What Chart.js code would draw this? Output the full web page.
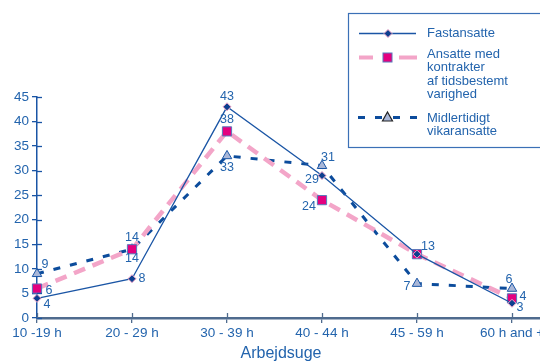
<!DOCTYPE html>
<html>
<head>
<meta charset="utf-8">
<script src="https://cdn.jsdelivr.net/npm/chart.js@4/dist/chart.umd.min.js"></script>
<style>
  html, body { margin: 0; padding: 0; background: #fff; overflow: hidden; }
  #wrap { width: 540px; height: 363px; overflow: hidden; position: relative; }
  canvas { display: block; }
</style>
</head>
<body>
<div id="wrap"><canvas id="c" width="600" height="363"></canvas></div>
<script>
// Working-week bands and shares (%) per type of employment
const categories = ['10 -19 h', '20 - 29 h', '30 - 39 h', '40 - 44 h', '45 - 59 h', '60 h and +'];
const fastansatte = [4, 8, 43, 29, 13, 3];
const tidsbestemt = [6, 14, 38, 24, 13, 4];
const vikaransatte = [9, 14, 33, 31, 7, 6];
const seriesNames = ['Fastansatte', 'Ansatte med kontrakter af tidsbestemt varighed', 'Midlertidigt vikaransatte'];
const axisTitle = 'Arbejdsuge';

// Styling
const FONT = '"Liberation Sans", Arial, sans-serif';
const TEXT = '#2364ad';
const BLUE = '#1a55a5';
const PINK = '#f3a5c8';
const MAGENTA = '#e4007f';
const NAVY = '#0c4c9c';
const TRI_FILL = '#a9b7d8';
const X_AXIS = '#4f6b8e';
const BAND_WIDTH = 95; // px between category ticks

// Value label offsets (dx, dy) from each point, per series
const labelOffsets = [
  [[10, 7], [10, 0], [0, -10], [-10, 4], [11, -7], [8, 5]],
  [[12, 2], [0, -11], [0, -11], [-13, 7], [11, -7], [11, -1]],
  [[8, -9], [0, 10], [0, 12], [6, -8], [-10, 3], [-3, -9]]
];

const toPoints = arr => arr.map((v, i) => ({ x: i, y: v }));

const valueLabels = {
  id: 'valueLabels',
  afterDatasetsDraw(chart) {
    const ctx = chart.ctx;
    const drawn = new Set();
    ctx.save();
    ctx.font = '12.5px ' + FONT;
    ctx.fillStyle = TEXT;
    ctx.textAlign = 'center';
    ctx.textBaseline = 'middle';
    chart.data.datasets.forEach((ds, di) => {
      const meta = chart.getDatasetMeta(di);
      meta.data.forEach((pt, i) => {
        const [dx, dy] = labelOffsets[di][i];
        const x = Math.round(pt.x + dx), y = Math.round(pt.y + dy);
        const key = x + ',' + y + ',' + ds.data[i].y;
        if (drawn.has(key)) return;
        drawn.add(key);
        ctx.fillText(String(ds.data[i].y), x, y);
      });
    });
    ctx.restore();
  }
};

// Keep a fixed spacing between category ticks whatever width the plot gets
const fixedBands = {
  id: 'fixedBands',
  afterLayout(chart) {
    const xs = chart.scales.x;
    const wanted = (xs.right - xs.left) / BAND_WIDTH;
    if (Math.abs(xs.options.max - wanted) > 1e-3) {
      xs.options.max = wanted;
      chart.options.scales.x.max = wanted;
      chart.update('none');
    }
  }
};

// Tick marks that cross the axis lines, title and the boxed legend
const decorations = {
  id: 'decorations',
  afterDraw(chart) {
    const ctx = chart.ctx;
    const xs = chart.scales.x, ys = chart.scales.y;
    const area = chart.chartArea;
    ctx.save();
    ctx.lineWidth = 1.3;
    ctx.strokeStyle = BLUE;
    ys.ticks.forEach(t => {
      const y = Math.round(ys.getPixelForValue(t.value)) + 0.5;
      ctx.beginPath(); ctx.moveTo(area.left, y); ctx.lineTo(area.left + 5, y); ctx.stroke();
    });
    ctx.strokeStyle = X_AXIS;
    xs.ticks.forEach(t => {
      const x = Math.round(xs.getPixelForValue(t.value)) + 0.5;
      ctx.beginPath(); ctx.moveTo(x, area.bottom - 5); ctx.lineTo(x, area.bottom); ctx.stroke();
    });

    // axis title
    ctx.font = '16px ' + FONT;
    ctx.fillStyle = TEXT;
    ctx.textAlign = 'center';
    ctx.textBaseline = 'middle';
    ctx.fillText(axisTitle, 281, 354);

    // legend box
    ctx.strokeStyle = '#3b70b6';
    ctx.lineWidth = 1.2;
    ctx.strokeRect(348.5, 13.5, 300, 134);

    ctx.font = '13px ' + FONT;
    ctx.textAlign = 'left';
    const tx = 427;

    // Fastansatte
    ctx.strokeStyle = BLUE; ctx.lineWidth = 1.3; ctx.setLineDash([]);
    ctx.beginPath(); ctx.moveTo(359, 33.5); ctx.lineTo(416, 33.5); ctx.stroke();
    ctx.beginPath();
    ctx.moveTo(388, 29.5); ctx.lineTo(392, 33.5); ctx.lineTo(388, 37.5); ctx.lineTo(384, 33.5); ctx.closePath();
    ctx.fillStyle = '#0d3f8f'; ctx.fill();
    ctx.strokeStyle = PINK; ctx.lineWidth = 1; ctx.stroke();
    ctx.fillStyle = TEXT;
    ctx.fillText('Fastansatte', tx, 33);

    // Tidsbestemt
    ctx.strokeStyle = PINK; ctx.lineWidth = 4;
    ctx.beginPath(); ctx.moveTo(359, 57.5); ctx.lineTo(373, 57.5); ctx.moveTo(399, 57.5); ctx.lineTo(417, 57.5); ctx.stroke();
    ctx.fillStyle = MAGENTA; ctx.fillRect(383, 53, 9, 9);
    ctx.strokeStyle = '#5a78bb'; ctx.lineWidth = 1; ctx.strokeRect(383, 53, 9, 9);
    ctx.fillStyle = TEXT;
    ['Ansatte med', 'kontrakter', 'af tidsbestemt', 'varighed'].forEach((s, i) => ctx.fillText(s, tx, 54.5 + i * 13.4));

    // Vikaransatte
    ctx.strokeStyle = NAVY; ctx.lineWidth = 3;
    ctx.beginPath();
    ctx.moveTo(358, 117.5); ctx.lineTo(365, 117.5);
    ctx.moveTo(375, 117.5); ctx.lineTo(382, 117.5);
    ctx.moveTo(393, 117.5); ctx.lineTo(400, 117.5);
    ctx.moveTo(410, 117.5); ctx.lineTo(417, 117.5);
    ctx.stroke();
    ctx.beginPath();
    ctx.moveTo(387.5, 112); ctx.lineTo(392.5, 121); ctx.lineTo(382.5, 121); ctx.closePath();
    ctx.fillStyle = TRI_FILL; ctx.fill();
    ctx.strokeStyle = '#222'; ctx.lineWidth = 1.2; ctx.stroke();
    ctx.fillStyle = TEXT;
    ctx.fillText('Midlertidigt', tx, 118);
    ctx.fillText('vikaransatte', tx, 131.5);
    ctx.restore();
  }
};

new Chart(document.getElementById('c'), {
  type: 'line',
  data: {
    datasets: [
      {
        label: seriesNames[0],
        data: toPoints(fastansatte),
        borderColor: BLUE,
        borderWidth: 1.3,
        pointStyle: 'rectRot',
        pointRadius: 4,
        pointBackgroundColor: '#0d3f8f',
        pointBorderColor: PINK,
        pointBorderWidth: 1,
        tension: 0,
        clip: false
      },
      {
        label: seriesNames[1],
        data: toPoints(tidsbestemt),
        borderColor: PINK,
        borderWidth: 4.5,
        borderDash: [12, 8],
        pointStyle: 'rect',
        pointRadius: 6.5,
        pointBackgroundColor: MAGENTA,
        pointBorderColor: '#5a78bb',
        pointBorderWidth: 1,
        tension: 0,
        clip: false
      },
      {
        label: seriesNames[2],
        data: toPoints(vikaransatte),
        borderColor: NAVY,
        borderWidth: 3,
        borderDash: [7, 10],
        pointStyle: 'triangle',
        pointRadius: 5.5,
        pointBackgroundColor: TRI_FILL,
        pointBorderColor: BLUE,
        pointBorderWidth: 1,
        tension: 0,
        clip: false
      }
    ]
  },
  options: {
    responsive: false,
    animation: false,
    devicePixelRatio: 1,
    layout: { padding: { top: 97, left: 0, right: 0, bottom: 0 } },
    plugins: { legend: { display: false }, tooltip: { enabled: false } },
    scales: {
      x: {
        type: 'linear',
        min: 0,
        max: 5.84,
        afterBuildTicks: s => { s.ticks = categories.map((_, i) => ({ value: i })); },
        afterFit: s => { s.height = 45; },
        ticks: {
          callback: v => categories[v],
          autoSkip: false,
          maxRotation: 0,
          padding: 2,
          color: TEXT,
          font: { family: FONT, size: 13.5 }
        },
        grid: { drawOnChartArea: false, drawTicks: true, tickLength: 5, color: X_AXIS, lineWidth: 1.3 },
        border: { color: X_AXIS, width: 2.5 }
      },
      y: {
        min: 0,
        max: 45,
        afterFit: s => { s.width = 37; },
        ticks: {
          stepSize: 5,
          padding: 3,
          color: TEXT,
          font: { family: FONT, size: 13.5 }
        },
        grid: { drawOnChartArea: false, drawTicks: true, tickLength: 5, color: BLUE, lineWidth: 1.3 },
        border: { color: BLUE, width: 1.5 }
      }
    }
  },
  plugins: [fixedBands, valueLabels, decorations]
});
</script>
</body>
</html>
